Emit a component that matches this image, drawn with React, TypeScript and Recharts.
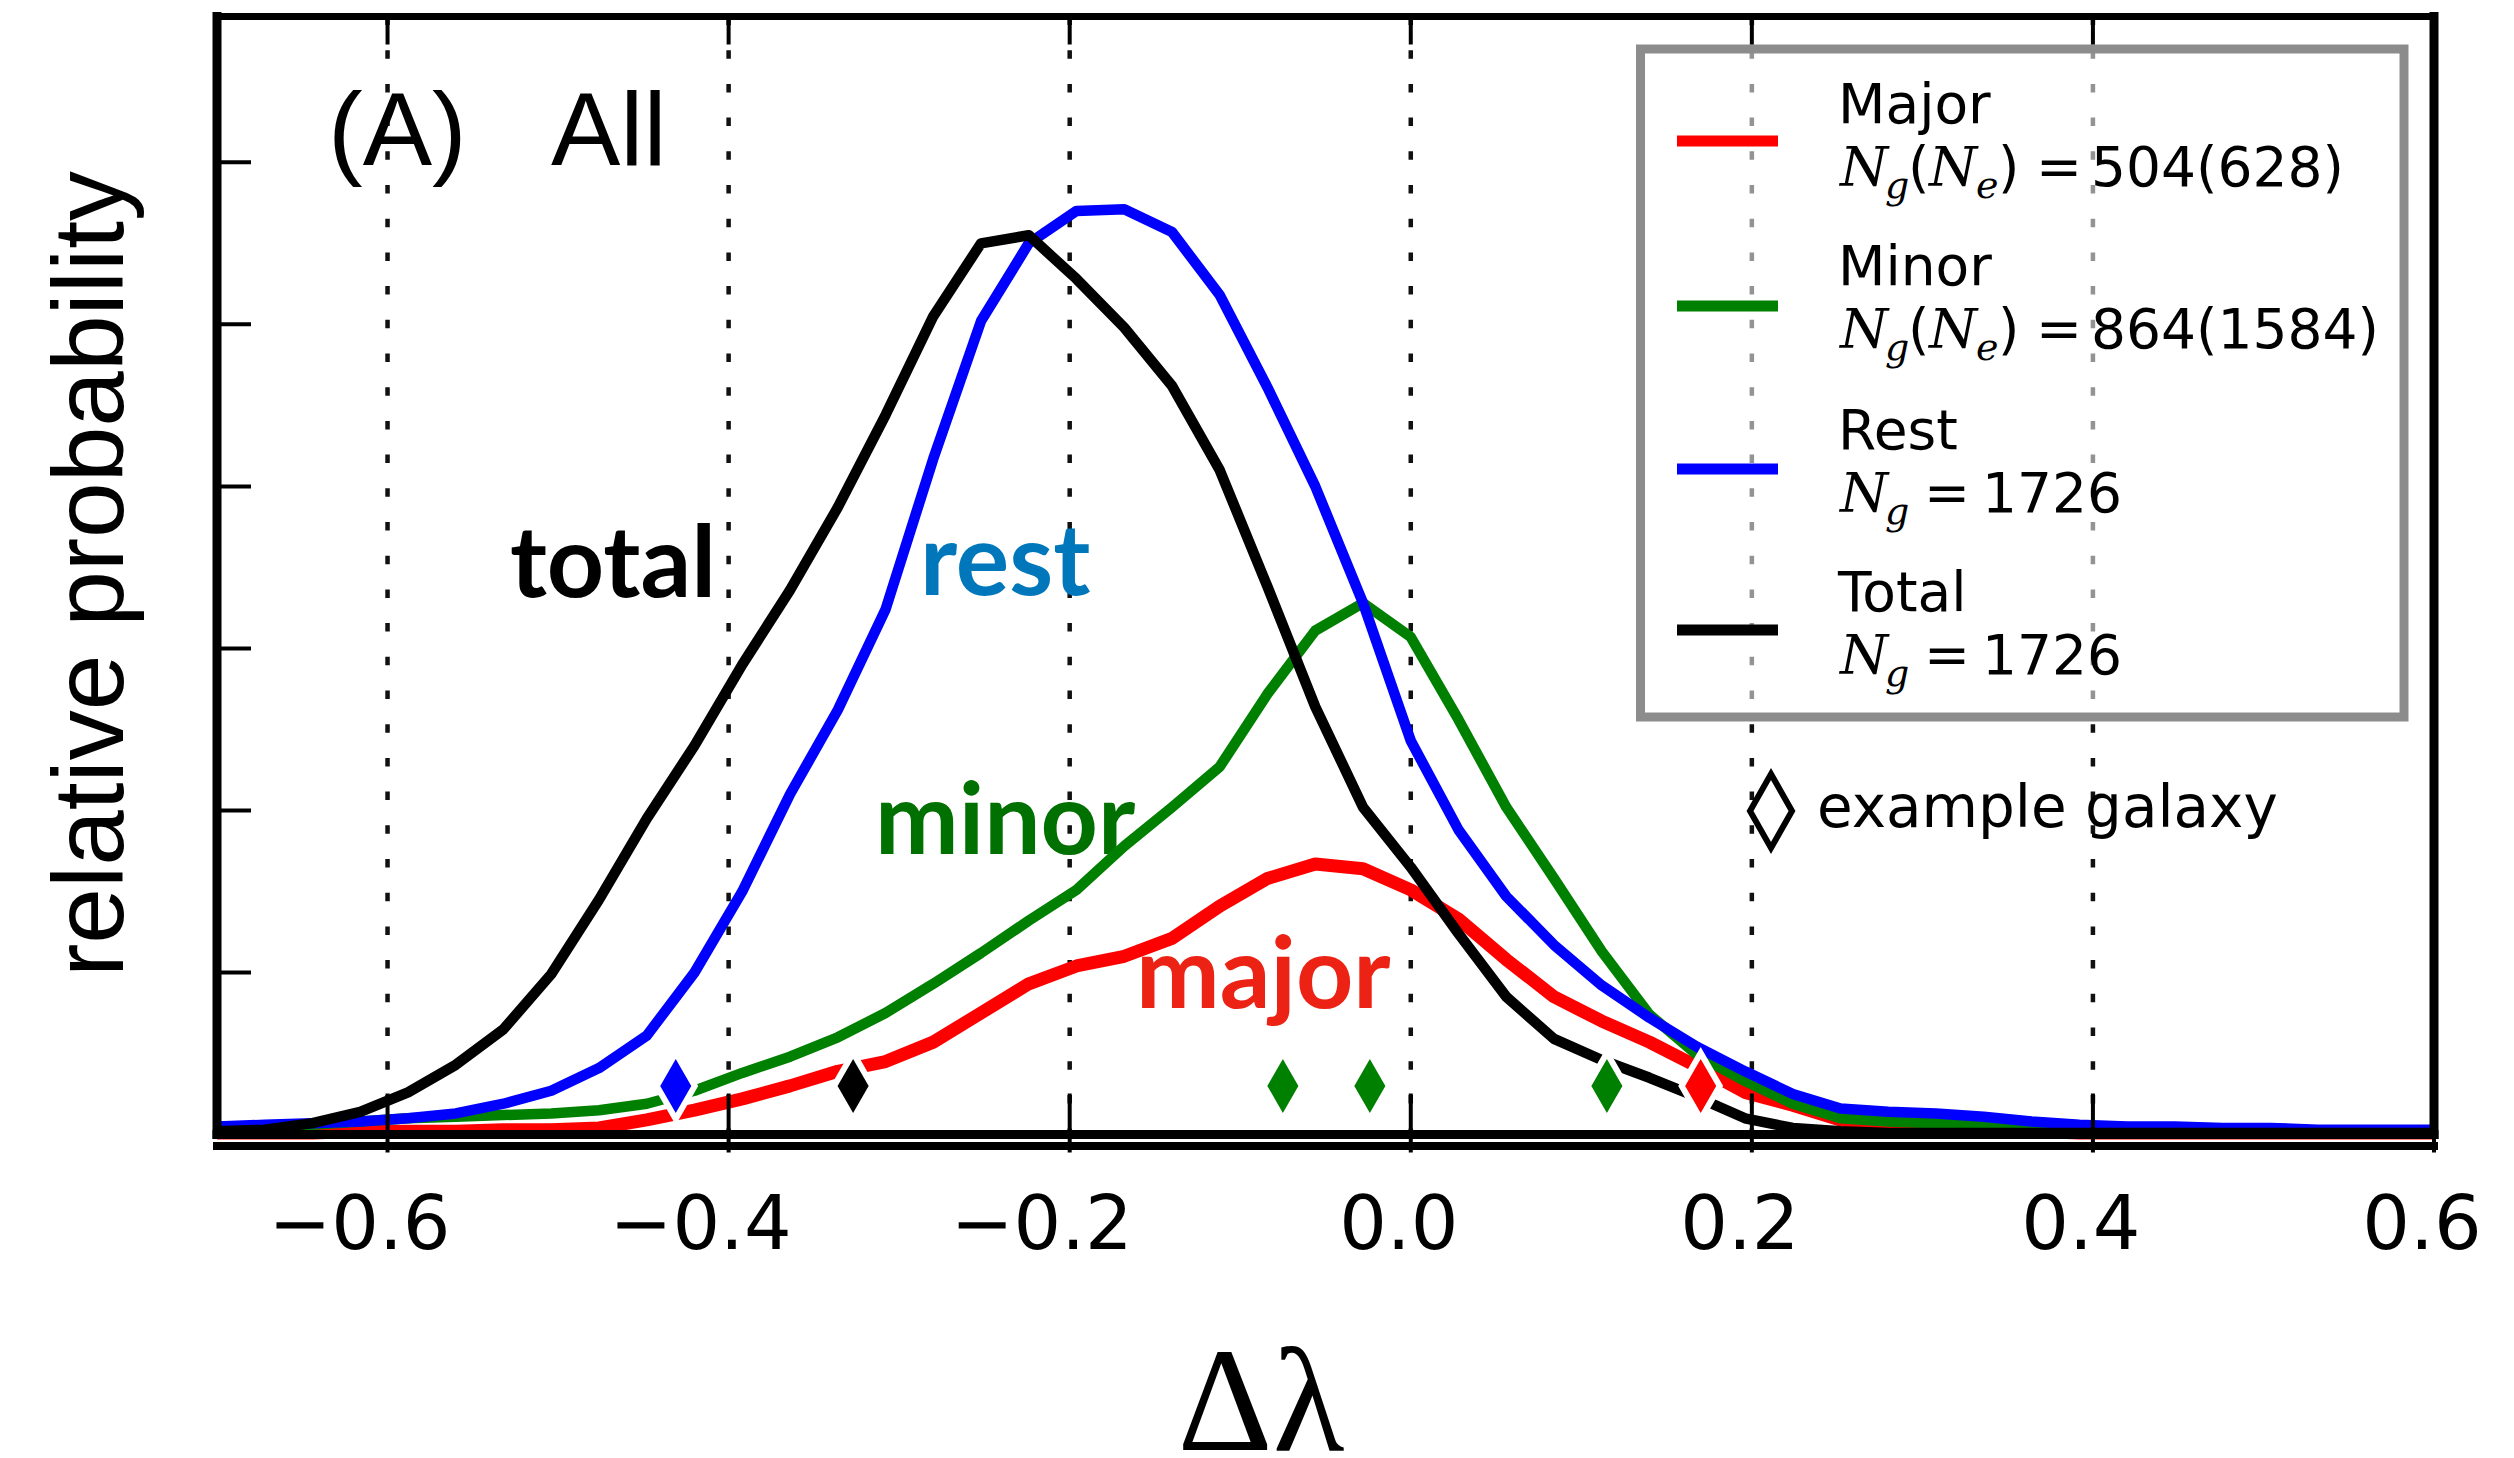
import React from 'react';
import {
  CartesianGrid,
  ComposedChart,
  Customized,
  Line,
  Scatter,
  XAxis,
  YAxis,
} from 'recharts';

// Δλ sample positions shared by all four distributions
const deltaLambda = [
  -0.7, -0.672, -0.644, -0.616, -0.588, -0.56, -0.532, -0.504, -0.476, -0.448,
  -0.42, -0.392, -0.364, -0.336, -0.308, -0.28, -0.252, -0.224, -0.196, -0.168,
  -0.14, -0.112, -0.084, -0.056, -0.028, 0, 0.028, 0.056, 0.084, 0.112,
  0.14, 0.168, 0.196, 0.224, 0.252, 0.28, 0.308, 0.336, 0.364, 0.392,
  0.42, 0.448, 0.476, 0.504, 0.532, 0.56, 0.6,
];

const major = [
  0.01, 0.01, 0.01, 0.02, 0.02, 0.02, 0.03, 0.03, 0.04, 0.09,
  0.15, 0.22, 0.3, 0.39, 0.45, 0.57, 0.75, 0.93, 1.04, 1.1,
  1.21, 1.41, 1.58, 1.67, 1.64, 1.51, 1.33, 1.08, 0.85, 0.7,
  0.57, 0.42, 0.26, 0.18, 0.09, 0.06, 0.04, 0.03, 0.02, 0.01,
  0.01, 0.01, 0.01, 0.01, 0.01, 0.01, 0.01,
];

const minor = [
  0.03, 0.04, 0.06, 0.08, 0.1, 0.11, 0.12, 0.13, 0.15, 0.19,
  0.27, 0.38, 0.48, 0.6, 0.75, 0.93, 1.12, 1.32, 1.51, 1.78,
  2.02, 2.27, 2.72, 3.11, 3.28, 3.07, 2.56, 2.02, 1.58, 1.13,
  0.74, 0.49, 0.33, 0.19, 0.1, 0.08, 0.07, 0.06, 0.04, 0.03,
  0.02, 0.02, 0.01, 0.01, 0.01, 0.01, 0.01,
];

const rest = [
  0.05, 0.06, 0.07, 0.08, 0.1, 0.13, 0.19, 0.27, 0.41, 0.61,
  1.0, 1.5, 2.1, 2.62, 3.24, 4.17, 5.02, 5.5, 5.7, 5.71,
  5.57, 5.18, 4.61, 4.0, 3.28, 2.43, 1.88, 1.47, 1.17, 0.92,
  0.72, 0.54, 0.39, 0.25, 0.16, 0.14, 0.13, 0.11, 0.08, 0.06,
  0.05, 0.05, 0.04, 0.04, 0.03, 0.03, 0.03,
];

const total = [
  0.02, 0.03, 0.07, 0.14, 0.26, 0.43, 0.65, 0.99, 1.45, 1.95,
  2.4, 2.9, 3.36, 3.87, 4.44, 5.05, 5.5, 5.55, 5.28, 4.98,
  4.62, 4.1, 3.38, 2.64, 2.02, 1.65, 1.24, 0.85, 0.59, 0.46,
  0.35, 0.23, 0.1, 0.04, 0.02, 0.01, 0.01, 0.01, 0.01, 0.01,
  0.01, 0.01, 0.01, 0.01, 0.01, 0.01, 0.01,
];

const xTicks = [-0.6, -0.4, -0.2, 0, 0.2, 0.4, 0.6];
const yTicks = [1, 2, 3, 4, 5, 6];

// example galaxies marked along the bottom
const galaxyX = [-0.431, -0.327, -0.075, -0.024, 0.115, 0.17];
const galaxyY = [0.3, 0.3, 0.3, 0.3, 0.3, 0.3];
const galaxyColor = ['#0000ff', '#000000', '#008000', '#008000', '#008000', '#ff0000'];

const legendTitles = ['Major', 'Minor', 'Rest', 'Total'];
const legendColors = ['#ff0000', '#008000', '#0000ff', '#000000'];
const legendGalaxies = ['504', '864', '1726', '1726'];
const legendEvents = ['628', '1584', '', ''];

const rows = deltaLambda.map((x, i) => ({
  x,
  major: major[i],
  minor: minor[i],
  rest: rest[i],
  total: total[i],
}));

const galaxies = galaxyX.map((x, i) => ({ x, y: galaxyY[i], color: galaxyColor[i] }));

const SANS = 'DejaVu Sans';
const fmtTick = (v: number) => (v < 0 ? '\u2212' : '') + Math.abs(v).toFixed(1);

const BottomTick = ({ x, y, payload }: any) => (
  <g>
    <line x1={x} x2={x} y1={y + 18} y2={y - 41} stroke="#000" strokeWidth={4} />
    <text
      x={x + (payload.value < 0 ? -28 : -12)}
      y={y + 114}
      textAnchor="middle"
      fontFamily={SANS}
      fontSize={75}
      fill="#000"
    >
      {fmtTick(payload.value)}
    </text>
  </g>
);

const TopTick = ({ x, y }: any) => (
  <line x1={x} x2={x} y1={y} y2={y + 28} stroke="#000" strokeWidth={4} />
);

const LeftTick = ({ x, y }: any) => (
  <line x1={x} x2={x + 34} y1={y} y2={y} stroke="#000" strokeWidth={4} />
);

const RightTick = ({ x, y }: any) => (
  <line x1={x} x2={x - 34} y1={y} y2={y} stroke="#000" strokeWidth={4} />
);

const Diamond = ({ cx, cy, payload }: any) => (
  <polygon
    points={`${cx},${cy - 33} ${cx + 19},${cy} ${cx},${cy + 33} ${cx - 19},${cy}`}
    fill={payload.color}
    stroke="#fff"
    strokeWidth={6}
  />
);

const italic = { fontFamily: 'DejaVu Serif', fontStyle: 'italic' as const };

const CountLine = ({ y, galaxies: ng, events }: { y: number; galaxies: string; events: string }) => (
  <text y={y} fontFamily={SANS} fontSize={55} fill="#000">
    <tspan x={1840} {...italic}>N</tspan>
    <tspan x={1885} dy={12} fontSize={38} {...italic}>g</tspan>
    {events ? (
      <>
        <tspan x={1908} dy={-12}>(</tspan>
        <tspan x={1929} {...italic}>N</tspan>
        <tspan x={1976} dy={12} fontSize={38} {...italic}>e</tspan>
        <tspan x={1998} dy={-12}>)</tspan>
        <tspan x={2036}>=</tspan>
        <tspan x={2091}>{`${ng}(${events})`}</tspan>
      </>
    ) : (
      <>
        <tspan x={1924} dy={-12}>=</tspan>
        <tspan x={1982}>{ng}</tspan>
      </>
    )}
  </text>
);

const titleY = [123, 285, 449, 611];
const sampleY = [141, 306, 469, 630];

const Overlay = () => (
  <g>
    {/* second rule under the frame */}
    <line x1={213} x2={2438} y1={1146} y2={1146} stroke="#000" strokeWidth={8} />

    {/* panel tag */}
    <text x={328} y={165} fontFamily="Liberation Sans" fontSize={104} fill="#000">(A)</text>
    <text x={551} y={165} fontFamily="Liberation Sans" fontSize={104} fill="#000">All</text>

    {/* curve names */}
    <text x={510} y={597} fontFamily="Lato" fontWeight={700} fontSize={100} fill="#000">total</text>
    <text x={920} y={595} fontFamily="Lato" fontWeight={700} fontSize={100} fill="#0077bb">rest</text>
    <text x={875} y={854} fontFamily="Lato" fontWeight={700} fontSize={100} fill="#007000">minor</text>
    <text x={1136} y={1008} fontFamily="Lato" fontWeight={700} fontSize={100} fill="#ec2314">major</text>

    {/* legend */}
    <rect x={1640.5} y={49} width={763.5} height={668} fill="#fff" fillOpacity={0.55} stroke="#8c8c8c" strokeWidth={9} />
    {legendTitles.map((t, i) => (
      <g key={t}>
        <line x1={1677} x2={1778} y1={sampleY[i]} y2={sampleY[i]} stroke={legendColors[i]} strokeWidth={11} />
        <text x={1838} y={titleY[i]} fontFamily={SANS} fontSize={55} fill="#000">{t}</text>
        <CountLine y={titleY[i] + 63} galaxies={legendGalaxies[i]} events={legendEvents[i]} />
      </g>
    ))}

    <polygon points="1771,774 1792,811 1771,848 1750,811" fill="#fff" stroke="#000" strokeWidth={6} />
    <text x={1817} y={827} fontFamily={SANS} fontSize={58} fill="#000">example galaxy</text>

    {/* axis titles */}
    <text
      x={123}
      y={574}
      transform="rotate(-90 123 574)"
      textAnchor="middle"
      fontFamily="Liberation Sans"
      fontSize={100}
      fill="#000"
    >
      relative probability
    </text>
    <text x={1261} y={1450} textAnchor="middle" fontFamily="Liberation Serif" fontSize={148} fill="#000">
      Δλ
    </text>
  </g>
);

const frame = { stroke: '#000', strokeWidth: 9, strokeLinecap: 'square' as const };

export default function App() {
  return (
    <div style={{ position: 'absolute', left: 0, top: 0, width: 2514, height: 1458, background: '#fff', overflow: 'hidden' }}>
      <ComposedChart
        width={2514}
        height={1458}
        data={rows}
        margin={{ top: 15.5, right: 79, bottom: 322.5, left: 216 }}
      >
        <CartesianGrid horizontal={false} stroke="#111" strokeWidth={4.5} strokeDasharray="8.5 25.2" />
        <XAxis
          dataKey="x"
          type="number"
          domain={[-0.7, 0.6]}
          ticks={xTicks}
          interval={0}
          height={1}
          tickSize={0}
          tickMargin={0}
          tickLine={false}
          axisLine={frame}
          tick={BottomTick}
        />
        <XAxis
          xAxisId="top"
          orientation="top"
          dataKey="x"
          type="number"
          domain={[-0.7, 0.6]}
          ticks={xTicks}
          interval={0}
          height={1}
          tickSize={0}
          tickMargin={0}
          tickLine={false}
          axisLine={{ ...frame, strokeWidth: 7 }}
          tick={TopTick}
        />
        <YAxis
          type="number"
          domain={[0, 6.9]}
          ticks={yTicks}
          interval={0}
          width={1}
          tickSize={0}
          tickMargin={0}
          tickLine={false}
          axisLine={frame}
          tick={LeftTick}
        />
        <YAxis
          yAxisId="right"
          orientation="right"
          type="number"
          domain={[0, 6.9]}
          ticks={yTicks}
          interval={0}
          width={1}
          tickSize={0}
          tickMargin={0}
          tickLine={false}
          axisLine={frame}
          tick={RightTick}
        />
        <Line type="linear" dataKey="major" stroke="#ff0000" strokeWidth={13} dot={false} activeDot={false} strokeLinejoin="round" isAnimationActive={false} />
        <Line type="linear" dataKey="minor" stroke="#008000" strokeWidth={10.5} dot={false} activeDot={false} strokeLinejoin="round" isAnimationActive={false} />
        <Line type="linear" dataKey="rest" stroke="#0000ff" strokeWidth={10.5} dot={false} activeDot={false} strokeLinejoin="round" isAnimationActive={false} />
        <Line type="linear" dataKey="total" stroke="#000000" strokeWidth={10.5} dot={false} activeDot={false} strokeLinejoin="round" isAnimationActive={false} />
        <Scatter data={galaxies} dataKey="y" shape={Diamond} isAnimationActive={false} />
        <Customized component={Overlay} />
      </ComposedChart>
    </div>
  );
}
